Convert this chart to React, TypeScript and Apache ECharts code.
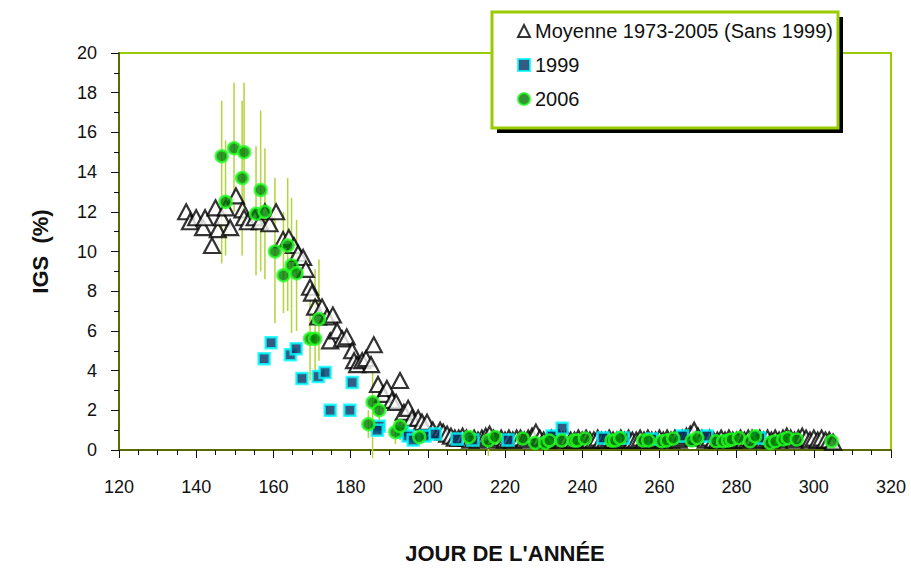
import React, { useEffect, useRef } from "react";
import * as echarts from "echarts";

// Moyenne 1973-2005 (sans 1999): [jour, IGS %]
const moyenne: [number, number][] = [
  [137.4, 12.0], [138.4, 11.5], [140, 11.7], [141.8, 11.2], [142.3, 11.7], [144.1, 10.3], [145, 12.2],
  [145.6, 11.1], [146.7, 11.7], [147.7, 12.2], [148.8, 11.2], [150.3, 12.8], [152, 12.1], [152.4, 11.7],
  [153.4, 11.5], [155.2, 11.7], [156.5, 11.5], [157.8, 12.0], [159, 11.4], [160.7, 12.0], [162.5, 10.6],
  [164, 10.7], [165.3, 10.3], [166.4, 9.9], [167.7, 9.7], [168.4, 9.1], [169.5, 8.2], [170, 7.9],
  [170.8, 7.2], [171.6, 6.7], [172.6, 7.2], [173.9, 6.7], [174.7, 5.5], [175.4, 6.8], [176.5, 6.0],
  [177.8, 5.6], [179, 5.7], [180.4, 5.0], [180.9, 4.5], [181.7, 4.3], [183, 4.5], [184, 4.6],
  [185.3, 4.3], [186, 5.3], [187.1, 3.3], [188.4, 2.8], [189.4, 3.1], [190.7, 2.5], [191.8, 2.4],
  [192.8, 3.5], [193.8, 1.9], [194.9, 2.1], [195.9, 1.6], [197.5, 1.6], [198.5, 1.4], [199.8, 1.4],
  [201.3, 1.0], [203.2, 1.0], [204, 0.9], [205, 0.8], [206, 0.7], [207, 0.6], [208, 0.6], [209, 0.7],
  [210, 0.6], [211, 0.5], [212, 0.6], [213, 0.5], [214, 0.6], [215, 0.7], [216, 0.8], [217, 0.6],
  [218, 0.5], [219, 0.6], [220, 0.5], [221, 0.6], [222, 0.5], [223, 0.6], [224, 0.6], [225, 0.5],
  [226, 0.6], [227, 0.7], [228, 0.9], [229, 0.6], [230, 0.5], [231, 0.5], [232, 0.6], [233, 0.5],
  [234, 0.6], [235, 0.5], [236, 0.6], [237, 0.5], [238, 0.5], [239, 0.6], [240, 0.5], [241, 0.6],
  [242, 0.5], [243, 0.5], [244, 0.6], [245, 0.5], [246, 0.5], [247, 0.6], [248, 0.5], [249, 0.5],
  [250, 0.6], [251, 0.5], [252, 0.6], [253, 0.5], [254, 0.5], [255, 0.6], [256, 0.5], [257, 0.6],
  [258, 0.5], [259, 0.5], [260, 0.6], [261, 0.5], [262, 0.6], [263, 0.5], [264, 0.6], [265, 0.5],
  [266, 0.6], [267, 0.7], [268, 0.8], [269, 1.0], [270, 0.7], [271, 0.6], [272, 0.5], [273, 0.6],
  [274, 0.5], [275, 0.5], [276, 0.6], [277, 0.5], [278, 0.6], [279, 0.5], [280, 0.5], [281, 0.6],
  [282, 0.5], [283, 0.6], [284, 0.6], [285, 0.5], [286, 0.6], [287, 0.5], [288, 0.6], [289, 0.5],
  [290, 0.6], [291, 0.5], [292, 0.6], [293, 0.7], [294, 0.6], [295, 0.5], [296, 0.6], [297, 0.7],
  [298, 0.6], [299, 0.5], [300, 0.6], [301, 0.5], [302, 0.6], [303, 0.5], [304, 0.5], [305, 0.4],
];

// 1999
const an1999: [number, number][] = [
  [157.6, 4.6], [159.4, 5.4], [164.4, 4.8], [165.9, 5.1], [167.4, 3.6], [171.6, 3.7], [173.4, 3.9],
  [174.7, 2.0], [179.8, 2.0], [180.4, 3.4], [187.4, 1.2], [186.9, 1.0], [193.5, 0.9], [194.9, 0.7],
  [196.2, 0.5], [199.3, 0.7], [201.9, 0.8], [207.6, 0.55], [211.7, 0.5], [220.8, 0.5], [232.2, 0.7],
  [234.8, 1.1], [245.4, 0.6], [250.6, 0.6], [258, 0.55], [266, 0.7], [272.3, 0.7], [286, 0.6],
];

// 2006
const an2006: [number, number][] = [
  [146.6, 14.8], [147.6, 12.5], [149.8, 15.2], [151.9, 13.7], [152.4, 15.0], [155.5, 11.9], [156.7, 13.1],
  [157.8, 12.0], [160.4, 10.0], [162.6, 8.8], [163.7, 10.3], [164.7, 9.3], [166.0, 8.9], [169.5, 5.6],
  [170.8, 5.6], [171.8, 6.6], [184.6, 1.3], [185.7, 2.4], [187.4, 2.0], [191.6, 0.9], [192.8, 1.2],
  [197.8, 0.65], [210.7, 0.65], [215.7, 0.48], [217.4, 0.65], [224.6, 0.58], [227.8, 0.36], [230.4, 0.36],
  [231.5, 0.48], [234.7, 0.48], [237.9, 0.48], [238.7, 0.48], [240.7, 0.58], [247.6, 0.48], [248.5, 0.48],
  [249.8, 0.6], [255.8, 0.48], [257.1, 0.48], [260.6, 0.44], [261.9, 0.48], [263.6, 0.58], [268.4, 0.48],
  [269.8, 0.6], [274.7, 0.44], [276.5, 0.44], [277.8, 0.48], [278.7, 0.53], [280.6, 0.6], [283.5, 0.44],
  [284.8, 0.69], [288.7, 0.36], [290, 0.44], [292.1, 0.53], [293.2, 0.6], [295.6, 0.53], [304.6, 0.44],
];

// Barres d'erreur 2006: [jour, bas, haut]
const ecart2006: [number, number, number][] = [
  [146.6, 9.4, 17.6], [147.6, 9.8, 15.6], [149.8, 12.0, 18.5], [151.9, 9.8, 17.6], [152.4, 11.5, 18.5],
  [155.5, 8.8, 15.3], [156.7, 9.0, 17.1], [157.8, 8.6, 15.2], [160.4, 6.4, 13.7], [162.6, 6.9, 12.0],
  [163.7, 7.0, 13.7], [164.7, 5.9, 12.7], [166.0, 6.0, 11.6], [169.5, 3.5, 7.8], [170.8, 3.9, 9.1],
  [171.8, 4.5, 9.6], [184.6, 0.6, 2.0], [185.7, -0.4, 4.0], [187.4, 0.8, 3.2], [191.6, 0.3, 1.6],
  [192.8, 0.5, 1.9], [197.8, 0.4, 0.9], [210.7, 0.4, 0.9], [215.7, -0.3, 0.8], [217.4, 0.3, 1.0],
  [230.4, 0.1, 0.6],
];

const xTicks = { min: 120, max: 320, interval: 20 };
const yTicks = { min: 0, max: 20, interval: 2 };

const FONT = '"Liberation Sans", Arial, sans-serif';
const AXIS = "#5a6a00";
const GREEN = "#99cc00";

export default function App() {
  const ref = useRef<HTMLDivElement>(null);
  useEffect(() => {
    document.body.style.margin = "0";
    if (!ref.current) return;
    const chart = echarts.init(ref.current, null, { renderer: "svg" });
    chart.setOption({
      animation: false,
      backgroundColor: "#ffffff",
      grid: {
        left: 119, top: 53, width: 772, height: 406,
        show: true, borderColor: GREEN, borderWidth: 2, backgroundColor: "transparent",
      },
      xAxis: {
        type: "value", ...xTicks,
        name: "JOUR DE L'ANNÉE", nameLocation: "middle", nameGap: 92,
        nameTextStyle: { fontSize: 22, fontWeight: "bold", color: "#111", fontFamily: FONT },
        axisLine: { lineStyle: { color: AXIS, width: 2 } },
        axisTick: { length: 8, lineStyle: { color: "#111", width: 1 } },
        minorTick: { show: true, splitNumber: 4, length: 5, lineStyle: { color: "#111", width: 1 } },
        splitLine: { show: false },
        axisLabel: { fontSize: 18, color: "#111", margin: 28, fontFamily: FONT },
      },
      yAxis: {
        type: "value", ...yTicks,
        name: "IGS  (%)", nameLocation: "middle", nameGap: 68, nameRotate: 90,
        nameTextStyle: { fontSize: 22, fontWeight: "bold", color: "#111", fontFamily: FONT },
        axisLine: { lineStyle: { color: AXIS, width: 2 } },
        axisTick: { length: 8, lineStyle: { color: "#111", width: 1 } },
        minorTick: { show: true, splitNumber: 2, length: 5, lineStyle: { color: "#111", width: 1 } },
        splitLine: { show: false },
        axisLabel: { fontSize: 18, color: "#111", margin: 22, fontFamily: FONT },
      },
      legend: {
        orient: "vertical", left: 512, top: 16, itemGap: 14, itemWidth: 12, itemHeight: 12,
        data: ["Moyenne 1973-2005 (Sans 1999)", "1999", "2006"],
        textStyle: { fontSize: 20, color: "#111", fontFamily: FONT },
        z: 30,
      },
      graphic: [
        { type: "rect", z: 20, shape: { x: 497, y: 17, width: 346, height: 116 }, style: { fill: "#000" } },
        { type: "rect", z: 21, shape: { x: 492, y: 12, width: 346, height: 116 }, style: { fill: "#fff", stroke: GREEN, lineWidth: 3 } },
      ],
      series: [
        {
          type: "custom", name: "barres", z: 1, clip: false,
          renderItem: (params: any, api: any) => {
            const x = api.value(0), lo = api.value(1), hi = api.value(2);
            const p1 = api.coord([x, lo]);
            const p2 = api.coord([x, hi]);
            return {
              type: "line",
              shape: { x1: p1[0], y1: p1[1], x2: p2[0], y2: p2[1] },
              style: { stroke: "#b2d43c", lineWidth: 1.5 },
            };
          },
          encode: { x: 0, y: [1, 2] },
          data: ecart2006,
        },
        {
          type: "scatter", name: "Moyenne 1973-2005 (Sans 1999)", z: 2,
          symbol: "triangle", symbolSize: [16, 15],
          itemStyle: { color: "#ffffff", borderColor: "#000", borderWidth: 2.2 },
          data: moyenne,
        },
        {
          type: "scatter", name: "1999", z: 3,
          symbol: "rect", symbolSize: 11,
          itemStyle: { color: "#003366", borderColor: "#00ffff", borderWidth: 2.5 },
          data: an1999,
        },
        {
          type: "scatter", name: "2006", z: 4,
          symbol: "circle", symbolSize: 12,
          itemStyle: { color: "#007a00", borderColor: "#22ff22", borderWidth: 2.5 },
          data: an2006,
        },
      ],
    });
    return () => chart.dispose();
  }, []);
  return <div ref={ref} style={{ width: 911, height: 569 }} />;
}
